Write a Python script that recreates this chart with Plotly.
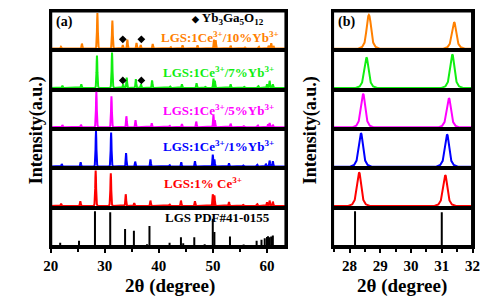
import plotly.graph_objects as go

# ------------------------------------------------------------------ data
LEFT_RANGE = [20, 63.5]
RIGHT_RANGE = [27.45, 32]
LEFT_TICKS = [20, 30, 40, 50, 60]
RIGHT_TICKS = [28, 29, 30, 31, 32]

# peak profile: offset in degrees, relative height
PROFILE_DX = [-0.35, -0.22, -0.14, -0.09, -0.05, -0.02, 0.0, 0.02, 0.05, 0.09, 0.14, 0.22, 0.35]
PROFILE_Y = [0.0, 0.05, 0.18, 0.48, 0.8, 0.97, 1.0, 0.97, 0.8, 0.48, 0.18, 0.05, 0.0]

sample_labels = [
    "LGS:1Ce<sup>3+</sup>/10%Yb<sup>3+</sup>",
    "LGS:1Ce<sup>3+</sup>/7%Yb<sup>3+</sup>",
    "LGS:1Ce<sup>3+</sup>/5%Yb<sup>3+</sup>",
    "LGS:1Ce<sup>3+</sup>/1%Yb<sup>3+</sup>",
    "LGS:1% Ce<sup>3+</sup>",
]
sample_colors = ["#FF8000", "#11EE11", "#FF00FF", "#0000FF", "#FF0000"]

yb10_pos = [21.9, 25.77, 28.63, 31.40, 33.33, 34.17, 35.86, 36.64, 38.86, 42.2, 44.38, 47.15,
            50.2, 50.5, 53.27, 55.9, 58.5, 60.3, 60.78, 61.2]
yb10_int = [0.05, 0.14, 1.0, 0.79, 0.10, 0.25, 0.16, 0.10, 0.13, 0.04, 0.09, 0.09,
            0.25, 0.24, 0.08, 0.03, 0.05, 0.08, 0.15, 0.07]

yb7_pos = [22.16, 25.65, 28.55, 31.34, 33.39, 34.05, 35.74, 36.70, 38.74, 42.1, 44.26, 46.97,
           48.6, 50.1, 50.35, 53.27, 55.8, 58.4, 60.0, 60.48, 61.08]
yb7_int = [0.06, 0.10, 0.91, 1.0, 0.10, 0.29, 0.25, 0.10, 0.21, 0.04, 0.10, 0.13,
           0.03, 0.26, 0.20, 0.10, 0.03, 0.05, 0.10, 0.20, 0.10]

yb5_pos = [22.16, 25.59, 28.44, 31.23, 33.99, 35.68, 38.68, 42.0, 44.26, 46.91, 50.09, 50.35,
           53.27, 55.7, 58.3, 60.2, 60.48, 61.08]
yb5_int = [0.06, 0.07, 1.0, 0.87, 0.31, 0.20, 0.11, 0.04, 0.09, 0.16, 0.35, 0.20,
           0.10, 0.03, 0.05, 0.08, 0.12, 0.07]

yb1_pos = [22.04, 25.53, 28.37, 31.17, 33.93, 35.62, 38.44, 42.0, 44.14, 46.67, 49.97, 50.27,
           52.97, 55.6, 58.2, 59.8, 60.48, 61.08]
yb1_int = [0.07, 0.12, 1.0, 0.96, 0.38, 0.14, 0.20, 0.04, 0.12, 0.15, 0.34, 0.20,
           0.09, 0.03, 0.05, 0.08, 0.17, 0.15]

ce_pos = [21.92, 25.47, 28.31, 31.11, 33.87, 35.44, 38.44, 42.0, 44.08, 46.67, 49.97, 50.27,
          52.97, 55.6, 58.2, 60.0, 60.48, 61.08]
ce_int = [0.06, 0.13, 1.0, 0.92, 0.33, 0.08, 0.15, 0.04, 0.15, 0.13, 0.33, 0.30,
          0.11, 0.03, 0.05, 0.10, 0.15, 0.12]

sample_pos = [yb10_pos, yb7_pos, yb5_pos, yb1_pos, ce_pos]
sample_int = [yb10_int, yb7_int, yb5_int, yb1_int, ce_int]

pdf_pos = [21.75, 25.23, 28.18, 31.0, 33.75, 35.38, 37.8, 38.26, 41.98, 44.08, 44.5, 46.55,
           48.47, 49.97, 50.27, 53.15, 55.68, 58.08, 58.98, 59.58, 60.0, 60.18, 60.48, 60.78, 61.08]
pdf_int = [0.09, 0.15, 1.0, 0.97, 0.49, 0.44, 0.05, 0.57, 0.09, 0.25, 0.08, 0.25,
           0.05, 0.78, 0.40, 0.27, 0.04, 0.15, 0.18, 0.22, 0.26, 0.28, 0.25, 0.27, 0.30]

diamond_x = [33.33, 36.76]
diamond_y = {0: [0.26, 0.26], 1: [0.21, 0.21]}

# ------------------------------------------------------------------ layout geometry
W, H = 498, 303
COLS = [(45, 287), (335, 479)]
TOP, BOT = 11, 247
NR = 6
RH = (BOT - TOP) / NR
FONT = "Liberation Serif, Times New Roman, serif"

fig = go.Figure()


def pattern(pos, inten):
    xs, ys = [LEFT_RANGE[0]], [0]
    for p, h in sorted(zip(pos, inten)):
        for dx, f in zip(PROFILE_DX, PROFILE_Y):
            xs.append(p + dx)
            ys.append(h * f)
    xs.append(LEFT_RANGE[1])
    ys.append(0)
    return xs, ys


def axnames(r, c):
    idx = r * 2 + c + 1
    s = "" if idx == 1 else str(idx)
    return "x" + s, "y" + s, "xaxis" + s, "yaxis" + s


for r in range(NR):
    for c in range(2):
        xr, yr, xn, yn = axnames(r, c)
        bottom = r == NR - 1
        y0 = 1 - (TOP + (r + 1) * RH) / H
        y1 = 1 - (TOP + r * RH) / H
        x0, x1 = COLS[c][0] / W, COLS[c][1] / W
        xa = dict(domain=[x0, x1], anchor=yr,
                  range=LEFT_RANGE if c == 0 else RIGHT_RANGE,
                  showline=True, mirror=True, linecolor="black", linewidth=2,
                  showgrid=False, zeroline=False, fixedrange=True)
        if bottom:
            xa.update(tickmode="array", tickvals=LEFT_TICKS if c == 0 else RIGHT_TICKS,
                      ticks="outside", ticklen=4, tickwidth=2, tickcolor="black",
                      showticklabels=True,
                      tickfont=dict(family=FONT, size=15, color="black", weight="bold"),
                      minor=dict(ticks="outside", ticklen=3, tickwidth=1.5, tickcolor="black",
                                 tick0=20 if c == 0 else 27.5, dtick=5 if c == 0 else 0.5))
        else:
            xa.update(ticks="", showticklabels=False)
        if r < NR - 1:
            yrange = [-0.05, 1.06] if c == 0 else [-0.05, 1.12]
        else:
            yrange = [-0.03, 1.1]
        ya = dict(domain=[y0, y1], anchor=xr, range=yrange,
                  showline=True, mirror=True, linecolor="black", linewidth=2,
                  showgrid=False, zeroline=False, ticks="", showticklabels=False,
                  fixedrange=True)
        fig.layout[xn] = xa
        fig.layout[yn] = ya

        if r < NR - 1:
            xs, ys = pattern(sample_pos[r], sample_int[r])
            fig.add_trace(go.Scatter(x=xs, y=ys, mode="lines", xaxis=xr, yaxis=yr,
                                     line=dict(color=sample_colors[r], width=2),
                                     hoverinfo="skip", showlegend=False))
            if c == 0 and r in diamond_y:
                fig.add_trace(go.Scatter(x=diamond_x, y=diamond_y[r], mode="markers",
                                         xaxis=xr, yaxis=yr,
                                         marker=dict(symbol="diamond", size=6, color="black"),
                                         hoverinfo="skip", showlegend=False))
        else:
            sx, sy = [], []
            for p, h in zip(pdf_pos, pdf_int):
                sx += [p, p, None]
                sy += [0, h, None]
            fig.add_trace(go.Scatter(x=sx, y=sy, mode="lines", xaxis=xr, yaxis=yr,
                                     line=dict(color="black", width=2),
                                     hoverinfo="skip", showlegend=False))
            fig.add_trace(go.Scatter(x=LEFT_RANGE, y=[0, 0], mode="lines", xaxis=xr, yaxis=yr,
                                     line=dict(color="black", width=2),
                                     hoverinfo="skip", showlegend=False))

# outer frames
for (a, b) in COLS:
    fig.add_shape(type="rect", xref="paper", yref="paper",
                  x0=a / W, x1=b / W, y0=1 - BOT / H, y1=1 - TOP / H,
                  line=dict(color="black", width=3), fillcolor="rgba(0,0,0,0)")


def ann(text, x, y, size, color="black", xanchor="center", angle=0):
    fig.add_annotation(text=text, x=x / W, y=1 - y / H, xref="paper", yref="paper",
                       showarrow=False, xanchor=xanchor, yanchor="middle", textangle=angle,
                       font=dict(family=FONT, size=size, color=color, weight="bold"))


label_right = [282, 277, 277, 277, 244, 273]
label_y = [37, 72, 110, 146, 183, 217]
for i in range(5):
    ann(sample_labels[i], label_right[i], label_y[i], 13, sample_colors[i], "right")
ann("LGS PDF#41-0155", label_right[5], label_y[5], 13, "black", "right")
ann("<span style='font-size:9px'>\u25c6</span> Yb<sub>3</sub>Ga<sub>5</sub>O<sub>12</sub>",
    267, 19, 13, "black", "right")
ann("(a)", 48, 22, 14, "black", "left")
ann("(b)", 339, 22, 14, "black", "left")
ann("Intensity(a.u.)", 30, 130, 18, angle=-90)
ann("Intensity(a.u.)", 312, 130, 18, angle=-90)
ann("2\u03b8 (degree)", 168, 286, 19)
ann("2\u03b8 (degree)", 406, 286, 19)

fig.update_layout(width=W, height=H, autosize=False,
                  margin=dict(l=0, r=0, t=0, b=0),
                  paper_bgcolor="white", plot_bgcolor="white",
                  showlegend=False)

fig.write_html("out.html", config={"displayModeBar": False},
               post_script="document.body.style.margin='0';document.body.style.padding='0';")
